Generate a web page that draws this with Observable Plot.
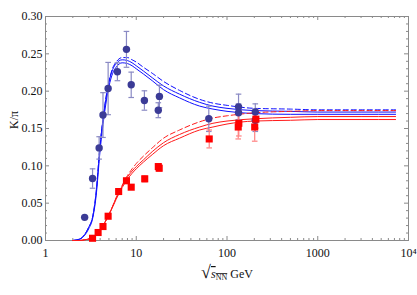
<!DOCTYPE html>
<html>
<head>
<meta charset="utf-8">
<script src="https://cdn.jsdelivr.net/npm/d3@7"></script>
<script src="https://cdn.jsdelivr.net/npm/@observablehq/plot@0.6"></script>
<style>
  html, body { margin: 0; padding: 0; background: #fff; }
  svg text { font-family: "Liberation Serif", "Times New Roman", Times, "DejaVu Serif", "Noto Serif", serif !important; }
</style>
</head>
<body>
<div id="chart"></div>
<script>
// ---- data ----
const blueX   = [2.7, 3.3, 3.9, 4.3, 4.9, 6.2, 7.8, 8.8, 12.3, 18, 17.5, 63, 134, 134, 205, 205];
const blueY   = [0.031, 0.083, 0.124, 0.168, 0.2035, 0.226, 0.256, 0.2085, 0.1875, 0.193, 0.1745, 0.163, 0.179, 0.171, 0.172, 0.161];
const blueErr = [0, 0.013, 0.015, 0.030, 0.035, 0.012, 0.024, 0.017, 0.013, 0.015, 0.010, 0.017, 0.017, 0.012, 0.011, 0.015];

const redX   = [3.3, 3.8, 4.3, 4.9, 6.4, 7.8, 8.8, 12.4, 17.9, 17.5, 63.7, 135, 133, 202, 208];
const redY   = [0.003, 0.0107, 0.0187, 0.0325, 0.0656, 0.080, 0.0714, 0.0826, 0.0968, 0.099, 0.136, 0.157, 0.152, 0.152, 0.1625];
const redErr = [0.001, 0.001, 0.001, 0.001, 0.002, 0.002, 0.002, 0.004, 0.004, 0.004, 0.012, 0.017, 0.016, 0.019, 0.012];

const curveX = [2, 2.4, 2.7, 3, 3.3, 3.6, 4, 4.5, 5, 5.5, 6, 7, 8, 9, 10, 12, 15, 20, 30, 50, 70, 100, 200, 500, 1000, 3000, 7200];
const blueUpper  = [0, 0.002, 0.008, 0.018, 0.031, 0.062, 0.128, 0.180, 0.212, 0.229, 0.237, 0.242, 0.241, 0.238, 0.234, 0.227, 0.218, 0.207, 0.196, 0.185, 0.180, 0.177, 0.174, 0.173, 0.172, 0.172, 0.172];
const blueLower  = [0, 0.002, 0.007, 0.016, 0.029, 0.058, 0.121, 0.173, 0.206, 0.224, 0.232, 0.238, 0.237, 0.234, 0.230, 0.223, 0.214, 0.202, 0.191, 0.180, 0.176, 0.173, 0.170, 0.169, 0.169, 0.169, 0.169];
const blueDashed = [0, 0.002, 0.008, 0.018, 0.031, 0.063, 0.129, 0.181, 0.213, 0.231, 0.239, 0.245, 0.245, 0.242, 0.239, 0.232, 0.224, 0.213, 0.201, 0.189, 0.184, 0.181, 0.177, 0.176, 0.175, 0.175, 0.175];
const redUpper   = [0, 0.000, 0.001, 0.002, 0.004, 0.008, 0.014, 0.024, 0.035, 0.046, 0.057, 0.073, 0.085, 0.093, 0.099, 0.108, 0.119, 0.131, 0.142, 0.152, 0.157, 0.160, 0.163, 0.165, 0.166, 0.166, 0.166];
const redLower   = [0, 0.000, 0.001, 0.002, 0.004, 0.008, 0.014, 0.024, 0.034, 0.045, 0.055, 0.071, 0.082, 0.090, 0.096, 0.105, 0.115, 0.127, 0.137, 0.148, 0.152, 0.156, 0.160, 0.161, 0.162, 0.162, 0.162];
const redDashed  = [0, 0.000, 0.001, 0.002, 0.004, 0.008, 0.014, 0.024, 0.035, 0.046, 0.057, 0.074, 0.087, 0.096, 0.103, 0.113, 0.124, 0.137, 0.148, 0.159, 0.164, 0.167, 0.171, 0.173, 0.174, 0.174, 0.174];

const xTicks = [1, 10, 100, 1000, 10000];
const xTickLabels = ["1", "10", "100", "1000", "10⁴"];
const yTicks = [0, 0.05, 0.10, 0.15, 0.20, 0.25, 0.30];

// ---- build tables ----
const blue = blueX.map((x, i) => ({x, y: blueY[i], e: blueErr[i]}));
const red = redX.map((x, i) => ({x, y: redY[i], e: redErr[i]}));
function series(vals, name) { return curveX.map((x, i) => ({x, y: vals[i], name})); }
const curves = {
  blueUpper: series(blueUpper, "bu"), blueLower: series(blueLower, "bl"), blueDashed: series(blueDashed, "bd"),
  redUpper: series(redUpper, "ru"), redLower: series(redLower, "rl"), redDashed: series(redDashed, "rd")
};
const xMinor = [];
for (let d = 1; d <= 1000; d *= 10) for (let k = 2; k <= 9; k++) xMinor.push(k * d);
const yMinor = d3.range(0, 31).map(i => i / 100).filter(v => Math.round(v * 100) % 5 !== 0);

const W = 417, H = 295, ML = 45, MR = 9, MT = 16, MB = 55;
const FW = W - ML - MR, FH = H - MT - MB;
const BLUE = "#1010ff", RED = "#ff1a1a";
const BLUE_PT = "#3b3b96", BLUE_ERR = "#8a8ac4", RED_ERR = "#ff8080";
const TICK = "#8a8a8a";
const SERIF = "'Liberation Serif', 'Times New Roman', Times, 'DejaVu Serif', serif";

const cap = { draw(ctx, size) { const w = Math.sqrt(size / Math.PI); ctx.moveTo(-w, 0); ctx.lineTo(w, 0); } };

const svg = Plot.plot({
  width: W, height: H,
  marginLeft: ML, marginRight: MR, marginTop: MT, marginBottom: MB,
  style: { fontFamily: SERIF, fontSize: "12px", background: "#fff" },
  x: { type: "log", domain: [1, 10000] },
  y: { domain: [0, 0.30] },
  marks: [
    // inward ticks on all four sides
    Plot.ruleY(yTicks, { y: d => d, insetRight: FW - 4, stroke: TICK }),
    Plot.ruleY(yTicks, { y: d => d, insetLeft: FW - 4, stroke: TICK }),
    Plot.ruleY(yMinor, { y: d => d, insetRight: FW - 2, stroke: TICK }),
    Plot.ruleY(yMinor, { y: d => d, insetLeft: FW - 2, stroke: TICK }),
    Plot.ruleX(xTicks, { x: d => d, insetTop: FH - 4, stroke: TICK }),
    Plot.ruleX(xTicks, { x: d => d, insetBottom: FH - 4, stroke: TICK }),
    Plot.ruleX(xMinor, { x: d => d, insetTop: FH - 2, stroke: TICK }),
    Plot.ruleX(xMinor, { x: d => d, insetBottom: FH - 2, stroke: TICK }),
    Plot.frame({ stroke: TICK }),
    Plot.axisY({ ticks: yTicks, tickFormat: d3.format(".2f"), tickSize: 0, tickPadding: 3, label: null, fontFamily: SERIF, fontSize: 12, fill: "#111" }),
    Plot.axisX({ ticks: xTicks, tickFormat: d => xTickLabels[xTicks.indexOf(d)], tickSize: 0, tickPadding: 8, label: null, fontFamily: SERIF, fontSize: 12, fill: "#111" }),
    // model curves
    Plot.line(curves.blueUpper, { x: "x", y: "y", stroke: BLUE, strokeWidth: 1, curve: "monotone-x" }),
    Plot.line(curves.blueLower, { x: "x", y: "y", stroke: BLUE, strokeWidth: 1, curve: "monotone-x" }),
    Plot.line(curves.blueDashed, { x: "x", y: "y", stroke: BLUE, strokeWidth: 1, strokeDasharray: "5,3", curve: "monotone-x" }),
    Plot.line(curves.redUpper, { x: "x", y: "y", stroke: RED, strokeWidth: 1, curve: "monotone-x" }),
    Plot.line(curves.redLower, { x: "x", y: "y", stroke: RED, strokeWidth: 1, curve: "monotone-x" }),
    Plot.line(curves.redDashed, { x: "x", y: "y", stroke: RED, strokeWidth: 1, strokeDasharray: "5,3", curve: "monotone-x" }),
    // error bars
    Plot.ruleX(blue.filter(d => d.e > 0), { x: "x", y1: d => d.y - d.e, y2: d => d.y + d.e, stroke: BLUE_ERR, strokeWidth: 1.2 }),
    Plot.dot(blue.filter(d => d.e > 0), { x: "x", y: d => d.y - d.e, symbol: cap, r: 2.8, fill: "none", stroke: BLUE_ERR, strokeWidth: 1.2 }),
    Plot.dot(blue.filter(d => d.e > 0), { x: "x", y: d => d.y + d.e, symbol: cap, r: 2.8, fill: "none", stroke: BLUE_ERR, strokeWidth: 1.2 }),
    Plot.ruleX(red, { x: "x", y1: d => d.y - d.e, y2: d => d.y + d.e, stroke: RED_ERR, strokeWidth: 1.2 }),
    Plot.dot(red, { x: "x", y: d => d.y - d.e, symbol: cap, r: 2.8, fill: "none", stroke: RED_ERR, strokeWidth: 1.2 }),
    Plot.dot(red, { x: "x", y: d => d.y + d.e, symbol: cap, r: 2.8, fill: "none", stroke: RED_ERR, strokeWidth: 1.2 }),
    // data points
    Plot.dot(blue, { x: "x", y: "y", r: 3.7, fill: BLUE_PT, stroke: "none" }),
    Plot.dot(red, { x: "x", y: "y", symbol: "square", r: 4, fill: "#ff0000", stroke: "none" })
  ]
});

document.getElementById("chart").append(svg);

const root = d3.select(svg);
// y-axis label
root.append("text")
  .attr("transform", `translate(18,${MT + FH / 2 - 8}) rotate(-90)`)
  .attr("text-anchor", "middle")
  .attr("font-family", SERIF).attr("font-size", 12).attr("fill", "#111")
  .text("K/π");
// x-axis label
const lab = root.append("text")
  .attr("x", 227).attr("y", 278)
  .attr("text-anchor", "middle")
  .attr("font-family", SERIF).attr("font-size", 12).attr("fill", "#111");
lab.append("tspan").attr("font-size", 18).text("√");
lab.append("tspan").attr("font-style", "italic").attr("text-decoration", "overline").text("s");
lab.append("tspan").attr("font-size", 8).attr("dy", 2).attr("text-decoration", "overline").text("NN");
lab.append("tspan").attr("dy", -2).text(" GeV");
</script>
</body>
</html>
